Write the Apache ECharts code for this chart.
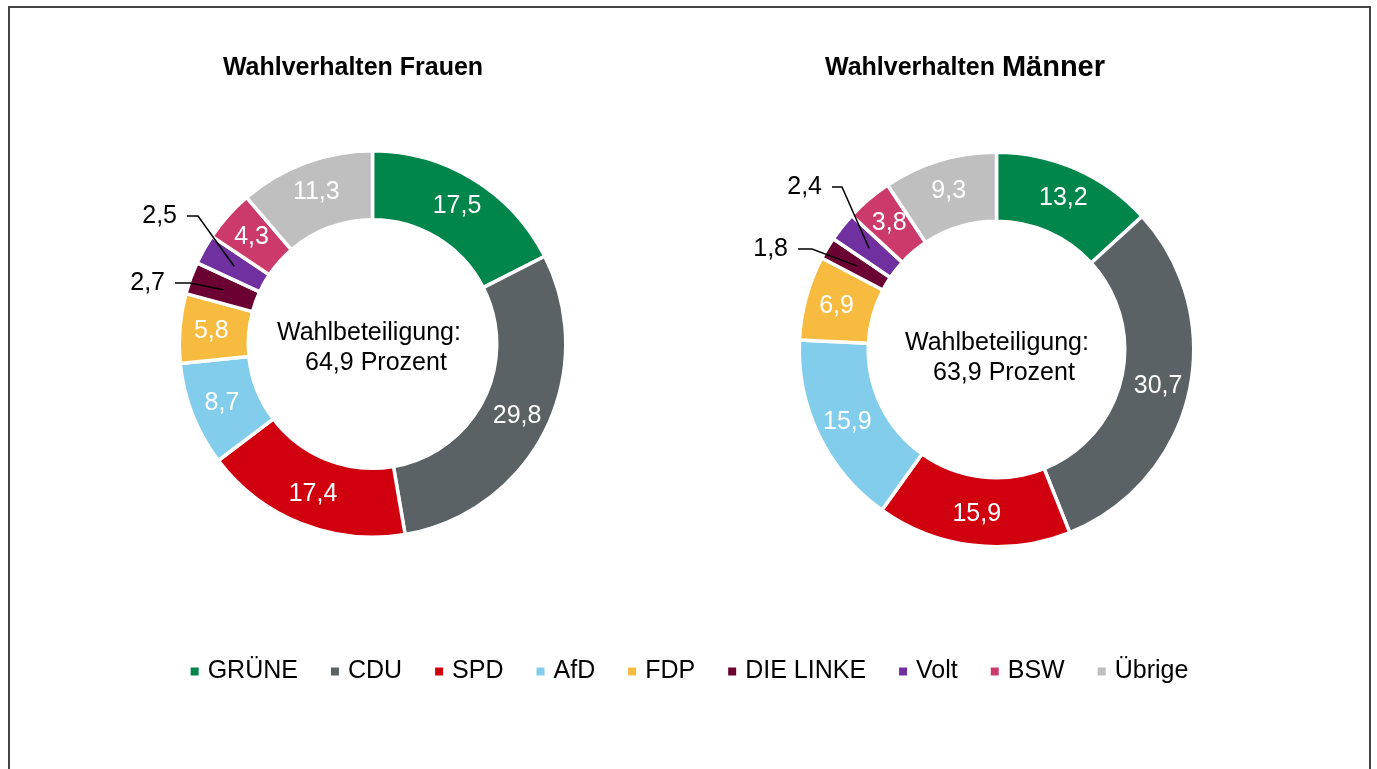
<!DOCTYPE html>
<html>
<head>
<meta charset="utf-8">
<script src="https://cdn.jsdelivr.net/npm/echarts@6/dist/echarts.min.js"></script>
<style>
html, body { margin: 0; padding: 0; background: #fff; }
#main { width: 1377px; height: 769px; }
#frame { position: absolute; left: 8px; top: 6px; width: 1359px; height: 800px; border: 2px solid #444; border-bottom: none; pointer-events: none; }
</style>
</head>
<body>
<div id="main"></div>
<div id="frame"></div>
<script>
const parteien = ['GRÜNE', 'CDU', 'SPD', 'AfD', 'FDP', 'DIE LINKE', 'Volt', 'BSW', 'Übrige'];
const farben = ['#00854A', '#5A6265', '#D0000F', '#82CDEB', '#F6BB3F', '#6B0032', '#7030A0', '#CC3A6C', '#BFBFBF'];
const frauen = [17.5, 29.8, 17.4, 8.7, 5.8, 2.7, 2.5, 4.3, 11.3];
const maenner = [13.2, 30.7, 15.9, 15.9, 6.9, 1.8, 2.4, 3.8, 9.3];
const beteiligung = ['64,9', '63,9'];
const titel = ['Wahlverhalten Frauen', 'Wahlverhalten Männer'];
const aussen = ['DIE LINKE', 'Volt'];

const font = '"Liberation Sans", Arial, sans-serif';

// pie geometry (pixels)
const pies = [
	{ values: frauen, center: [372.5, 344], radius: [124.25, 193.25] },
	{ values: maenner, center: [996.5, 349.5], radius: [128.25, 197.25] }
];

// outside labels: [text right x, y, line start x, line bend x]
const aussenPos = [
	{ 'DIE LINKE': [165, 283, 175, 190], 'Volt': [177, 216, 187, 198] },
	{ 'DIE LINKE': [788, 249, 798, 812], 'Volt': [822, 187, 832, 842] }
];

function fmt(v) {
	return v.toFixed(1).replace('.', ',');
}

function makeData(values) {
	return values.map(function (v, i) {
		let d = { name: parteien[i], value: v };
		if (aussen.indexOf(parteien[i]) >= 0) {
			d.label = { position: 'outside', color: '#000' };
		}
		return d;
	});
}

// point in the middle of the ring for a slice
function ringPoint(p, idx) {
	let total = p.values.reduce(function (s, v) { return s + v; }, 0);
	let before = 0;
	for (let i = 0; i < idx; i++) before += p.values[i];
	let mid = (before + p.values[idx] / 2) / total * Math.PI * 2;
	let r = (p.radius[0] + p.radius[1]) / 2;
	return [p.center[0] + r * Math.sin(mid), p.center[1] - r * Math.cos(mid)];
}

function layout(params) {
	let a = aussenPos[params.seriesIndex][parteien[params.dataIndex]];
	if (!a) return {};
	return { x: a[0], y: a[1], align: 'right', verticalAlign: 'middle' };
}

let series = pies.map(function (p) {
	return {
		type: 'pie',
		center: p.center,
		radius: p.radius,
		startAngle: 90,
		clockwise: true,
		avoidLabelOverlap: false,
		silent: true,
		itemStyle: { borderColor: '#fff', borderWidth: 3.5 },
		label: {
			show: true,
			position: 'inside',
			color: '#fff',
			fontSize: 25,
			fontFamily: font,
			formatter: function (params) { return fmt(params.value); }
		},
		labelLine: { show: false },
		labelLayout: layout,
		data: makeData(p.values)
	};
});

// leader lines for the small slices
let linien = [];
pies.forEach(function (p, s) {
	aussen.forEach(function (name) {
		let a = aussenPos[s][name];
		let pt = ringPoint(p, parteien.indexOf(name));
		linien.push({
			type: 'polyline', z: 100,
			shape: { points: [[a[2], a[1]], [a[3], a[1]], pt] },
			style: { stroke: '#000', lineWidth: 1.5, fill: null }
		});
	});
});

let myChart = echarts.init(document.getElementById('main'));
let option = {
	animation: false,
	color: farben,
	legend: {
		data: parteien,
		left: 'center',
		top: 654,
		icon: 'rect',
		itemWidth: 10,
		itemHeight: 10,
		itemGap: 31,
		textStyle: { fontSize: 25, color: '#000', fontFamily: font, padding: [0, 0, 0, 3] }
	},
	graphic: linien.concat([
		{
			type: 'text', x: 353, y: 68,
			style: { text: titel[0], align: 'center', verticalAlign: 'middle', fill: '#000', font: 'bold 25px ' + font }
		},
		{
			type: 'text', x: 965, y: 68,
			style: {
				text: '{a|Wahlverhalten }{b|Männer}', align: 'center', verticalAlign: 'middle',
				rich: {
					a: { fontSize: 25, fontWeight: 'bold', fontFamily: font, fill: '#000' },
					b: { fontSize: 29, fontWeight: 'bold', fontFamily: font, fill: '#000' }
				}
			}
		},
		{
			type: 'text', x: 369, y: 348,
			style: { text: 'Wahlbeteiligung:\n  ' + beteiligung[0] + ' Prozent', align: 'center', verticalAlign: 'middle', fill: '#000', font: '25px ' + font, lineHeight: 30 }
		},
		{
			type: 'text', x: 997, y: 358,
			style: { text: 'Wahlbeteiligung:\n  ' + beteiligung[1] + ' Prozent', align: 'center', verticalAlign: 'middle', fill: '#000', font: '25px ' + font, lineHeight: 30 }
		}
	]),
	series: series
};
myChart.setOption(option);
</script>
</body>
</html>
